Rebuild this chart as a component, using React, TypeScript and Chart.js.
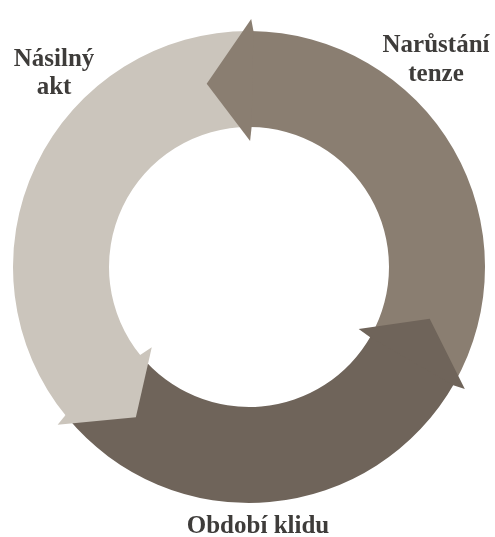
import React, { useEffect, useRef } from "react";
import { Chart, registerables } from "chart.js";

Chart.register(...registerables);

// Cycle stages (clockwise from top), and the angular span (degrees) of each arrow body
const stages = ["Narůstání tenze", "Období klidu", "Násilný akt"];
const arcSpans = [119, 111, 130];
const stageColors = ["#8a7e71", "#6f645a", "#cbc5bc"];

// Label lines as printed in the figure
const labelLines = [["Narůstání", "tenze"], ["Období klidu"], ["Násilný", "akt"]];

const HEAD_ANGLE = (13.5 * Math.PI) / 180;
const OUT_EXT = 12;
const IN_EXT = 14;

const labelPos: { x: number; y: number[] }[] = [
  { x: 436, y: [52, 81] },
  { x: 258, y: [533] },
  { x: 54, y: [66, 94] },
];

const arrowPlugin = {
  id: "arrowHeads",
  afterDatasetsDraw(chart: any) {
    const ctx = chart.ctx as CanvasRenderingContext2D;
    const meta = chart.getDatasetMeta(0);
    ctx.save();
    meta.data.forEach((arc: any, i: number) => {
      const { x, y, startAngle, outerRadius, innerRadius } = arc.getProps(
        ["x", "y", "startAngle", "outerRadius", "innerRadius"],
        true
      );
      const mid = (outerRadius + innerRadius) / 2;
      const a0 = startAngle;
      const ta = a0 - HEAD_ANGLE;
      const ro = outerRadius + OUT_EXT;
      const ri = innerRadius - IN_EXT;
      ctx.beginPath();
      ctx.moveTo(x + ro * Math.cos(a0), y + ro * Math.sin(a0));
      ctx.lineTo(x + mid * Math.cos(ta), y + mid * Math.sin(ta));
      ctx.lineTo(x + ri * Math.cos(a0), y + ri * Math.sin(a0));
      ctx.lineTo(x + innerRadius * Math.cos(a0 + 0.01), y + innerRadius * Math.sin(a0 + 0.01));
      ctx.lineTo(x + outerRadius * Math.cos(a0 + 0.01), y + outerRadius * Math.sin(a0 + 0.01));
      ctx.closePath();
      ctx.fillStyle = stageColors[i];
      ctx.fill();
    });
    ctx.fillStyle = "#3e3c3a";
    ctx.font = "bold 25px 'Liberation Serif', 'Times New Roman', serif";
    ctx.textAlign = "center";
    ctx.textBaseline = "alphabetic";
    labelLines.forEach((lines, i) => {
      lines.forEach((t, j) => {
        ctx.fillText(t, labelPos[i].x, labelPos[i].y[j]);
      });
    });
    ctx.restore();
  },
};

export default function App() {
  const ref = useRef<HTMLCanvasElement | null>(null);
  useEffect(() => {
    document.body.style.margin = "0";
    const canvas = ref.current!;
    const chart = new Chart(canvas, {
      type: "doughnut",
      data: {
        labels: stages,
        datasets: [
          {
            data: arcSpans,
            backgroundColor: stageColors,
            borderWidth: 0,
          },
        ],
      },
      options: {
        responsive: false,
        animation: false,
        events: [],
        rotation: 0.5,
        radius: 236,
        cutout: 140,
        layout: { padding: { left: 13, right: 10, top: 31, bottom: 34 } },
        plugins: {
          legend: { display: false },
          tooltip: { enabled: false },
          title: { display: false },
        },
      },
      plugins: [arrowPlugin],
    });
    return () => chart.destroy();
  }, []);
  return (
    <div style={{ width: 495, height: 537, background: "#fff" }}>
      <canvas ref={ref} width={495} height={537} style={{ display: "block" }} />
    </div>
  );
}
